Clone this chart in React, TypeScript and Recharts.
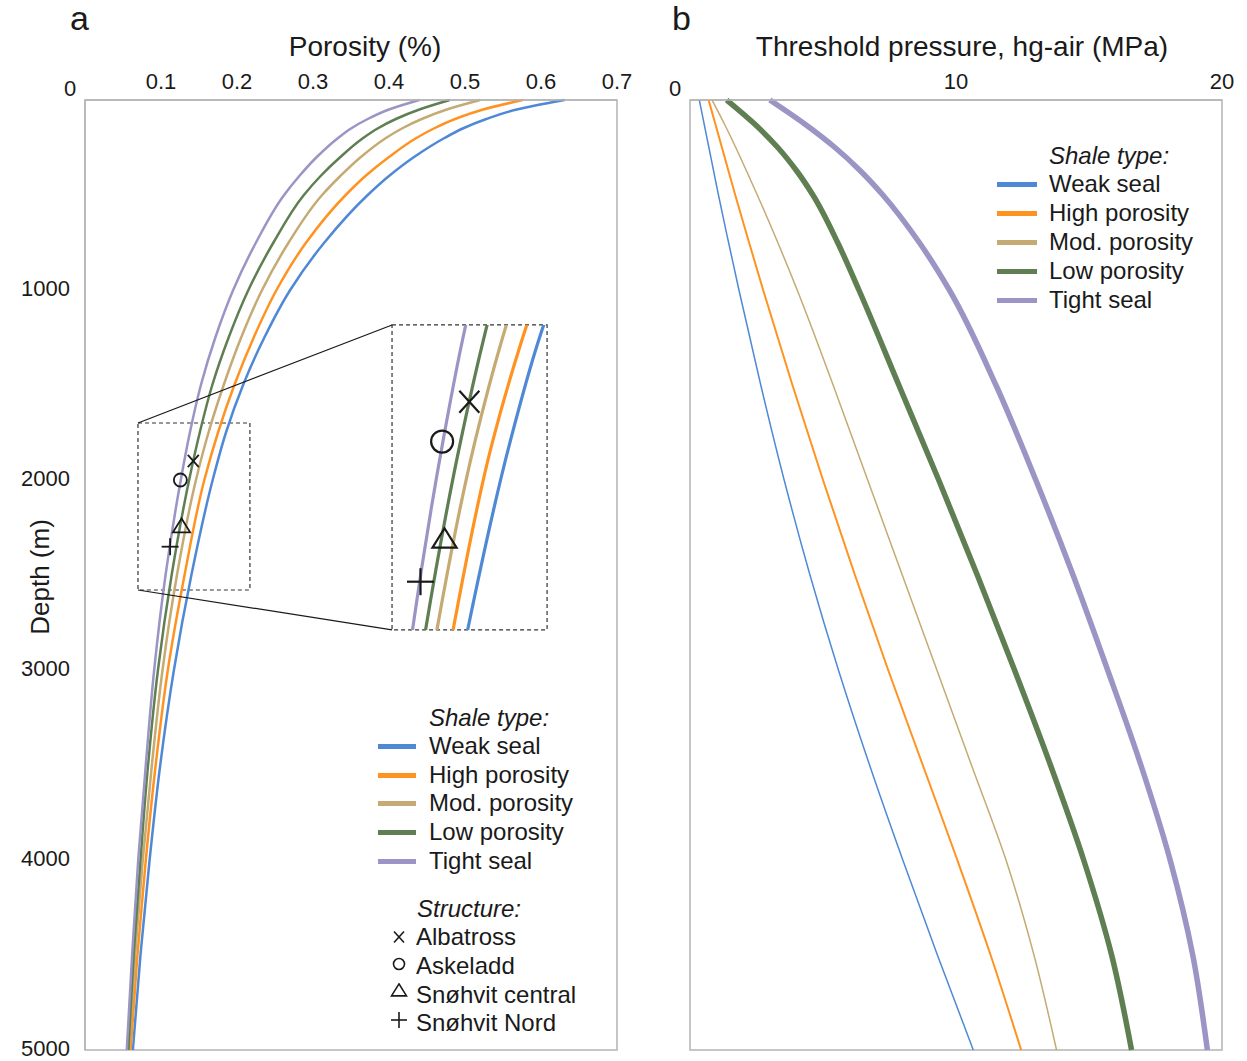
import React from 'react';
import { ComposedChart, Line, XAxis, YAxis, ReferenceArea, ReferenceLine, ReferenceDot } from 'recharts';

const FONT = '"Liberation Sans", Arial, Helvetica, sans-serif';
const INK = '#1a1a1a';
const FRAME = '#b4b4b4';

// ---- Panel a: porosity vs depth ----
const porosityDepths = [0, 50, 100, 150, 200, 300, 400, 500, 750, 1000, 1250, 1500, 1750, 2000, 2500, 3000, 3500, 4000, 4500, 5000];
const porosityWeak = [0.631, 0.568, 0.528, 0.497, 0.473, 0.433, 0.400, 0.372, 0.315, 0.270, 0.236, 0.208, 0.1855, 0.168, 0.140, 0.117, 0.099, 0.085, 0.073, 0.063];
const porosityHigh = [0.576, 0.524, 0.487, 0.459, 0.436, 0.400, 0.369, 0.343, 0.291, 0.252, 0.222, 0.1965, 0.175, 0.157, 0.131, 0.109, 0.093, 0.080, 0.069, 0.060];
const porosityMod = [0.520, 0.476, 0.443, 0.417, 0.396, 0.363, 0.336, 0.312, 0.268, 0.233, 0.2055, 0.1825, 0.1625, 0.146, 0.121, 0.102, 0.088, 0.076, 0.066, 0.058];
const porosityLow = [0.480, 0.440, 0.409, 0.385, 0.366, 0.336, 0.310, 0.288, 0.248, 0.215, 0.189, 0.1675, 0.151, 0.137, 0.114, 0.096, 0.083, 0.073, 0.064, 0.057];
const porosityTight = [0.440, 0.400, 0.372, 0.350, 0.333, 0.305, 0.282, 0.262, 0.225, 0.195, 0.1715, 0.1525, 0.138, 0.126, 0.106, 0.091, 0.080, 0.070, 0.062, 0.055];

// ---- Panel b: threshold pressure vs depth ----
const pressureDepths = [0, 125, 250, 375, 500, 750, 1000, 1500, 2000, 2500, 3000, 3500, 4000, 4500, 5000];
const pressureWeak = [0.35, 0.53, 0.71, 0.89, 1.07, 1.45, 1.84, 2.66, 3.54, 4.51, 5.58, 6.75, 8.00, 9.30, 10.65];
const pressureHigh = [0.70, 0.95, 1.20, 1.45, 1.70, 2.22, 2.75, 3.85, 5.00, 6.20, 7.45, 8.75, 10.05, 11.30, 12.45];
const pressureMod = [0.83, 1.29, 1.72, 2.13, 2.53, 3.30, 4.03, 5.38, 6.68, 7.98, 9.28, 10.58, 11.88, 12.93, 13.78];
const pressureLow = [1.38, 2.42, 3.30, 4.02, 4.62, 5.55, 6.35, 7.85, 9.35, 10.80, 12.20, 13.55, 14.80, 15.85, 16.60];
const pressureTight = [3.00, 4.30, 5.45, 6.42, 7.25, 8.62, 9.75, 11.50, 13.00, 14.40, 15.70, 16.95, 18.05, 18.90, 19.45];

const seriesKeys = ['weak', 'high', 'mod', 'low', 'tight'];
const seriesNames = ['Weak seal', 'High porosity', 'Mod. porosity', 'Low porosity', 'Tight seal'];
const seriesColors = ['#4f89d6', '#ff9322', '#c5ab73', '#5f7f53', '#9a95c4'];
const pressureWidths = [1.5, 2, 1.5, 5.5, 5.5];

const porosityTicks = [0, 0.1, 0.2, 0.3, 0.4, 0.5, 0.6, 0.7];
const depthTicks = [1000, 2000, 3000, 4000, 5000];
const pressureTicks = [0, 10, 20];

// structures
const structureNames = ['Albatross', 'Askeladd', 'Snøhvit central', 'Snøhvit Nord'];
const structureSymbols = ['cross', 'circle', 'triangle', 'plus'];
const structurePorosity = [0.1425, 0.1255, 0.127, 0.112];
const structureDepth = [1900, 2000, 2246, 2351];

// zoom window (source) and magnified frame, in data units of panel a
const zoomX = [0.0697, 0.217];
const zoomY = [1700, 2579];
const frameX = [0.404, 0.608];
const frameY = [1184, 2789];
const insetX = [0.0942, 0.191];
const insetY = [1708, 2472];

const porosityData = porosityDepths.map((depth, i) => ({
  depth,
  weak: porosityWeak[i],
  high: porosityHigh[i],
  mod: porosityMod[i],
  low: porosityLow[i],
  tight: porosityTight[i],
}));

const pressureData = pressureDepths.map((depth, i) => ({
  depth,
  weak: pressureWeak[i],
  high: pressureHigh[i],
  mod: pressureMod[i],
  low: pressureLow[i],
  tight: pressureTight[i],
}));

function markerShape(kind: string, s: number, sw: number) {
  return (p: any) => {
    const { cx, cy } = p;
    if (cx == null || cy == null) return <g />;
    if (kind === 'cross') {
      const sy = s * 1.1;
      return (
        <g>
          <line x1={cx - s} y1={cy - sy} x2={cx + s} y2={cy + sy} stroke={INK} strokeWidth={sw} />
          <line x1={cx - s} y1={cy + sy} x2={cx + s} y2={cy - sy} stroke={INK} strokeWidth={sw} />
        </g>
      );
    }
    if (kind === 'circle') {
      return <circle cx={cx} cy={cy} r={s} fill="none" stroke={INK} strokeWidth={sw} />;
    }
    if (kind === 'triangle') {
      return (
        <polygon
          points={`${cx},${cy - s * 1.1} ${cx - s * 1.15},${cy + s * 0.75} ${cx + s * 1.15},${cy + s * 0.75}`}
          fill="none"
          stroke={INK}
          strokeWidth={sw}
          strokeLinejoin="miter"
        />
      );
    }
    return (
      <g>
        <line x1={cx - s} y1={cy} x2={cx + s} y2={cy} stroke={INK} strokeWidth={sw} />
        <line x1={cx} y1={cy - s} x2={cx} y2={cy + s} stroke={INK} strokeWidth={sw} />
      </g>
    );
  };
}

const mainMarkerSize: Record<string, number> = { cross: 5.5, circle: 6.5, triangle: 7.5, plus: 8.5 };
const insetMarkerSize: Record<string, number> = { cross: 10, circle: 11, triangle: 10.5, plus: 13.5 };

const makeTopTick = (fmt: (v: number) => string) => (props: any) => {
  const { x, y, payload } = props;
  const v = payload.value;
  const zero = v === 0;
  return (
    <text
      x={zero ? x - 15 : x}
      y={zero ? y + 7 : y}
      textAnchor="middle"
      fontFamily={FONT}
      fontSize={22}
      fill={INK}
    >
      {fmt(v)}
    </text>
  );
};

const LeftTick = (props: any) => {
  const { x, y, payload } = props;
  return (
    <text x={x} y={y} dy={6} textAnchor="end" fontFamily={FONT} fontSize={22} fill={INK}>
      {payload.value}
    </text>
  );
};

function LegendSymbol({ kind }: { kind: string }) {
  const shape = markerShape(kind, kind === 'circle' ? 5.5 : kind === 'plus' ? 8 : kind === 'triangle' ? 6.5 : 5, 1.6);
  const dy = kind === 'triangle' ? -4 : kind === 'circle' ? -2 : kind === 'plus' ? -3 : 0;
  return (
    <svg width={22} height={24} style={{ position: 'absolute', left: -11, top: -12 }}>
      {shape({ cx: 11, cy: 12 + dy })}
    </svg>
  );
}

function ShaleLegend({ left, titleTop, rowTops, swatchLeft, swatchWidth }: any) {
  return (
    <>
      <div
        style={{
          position: 'absolute',
          left,
          top: titleTop - 12,
          fontSize: 24,
          lineHeight: '24px',
          fontStyle: 'italic',
          color: INK,
          whiteSpace: 'nowrap',
        }}
      >
        Shale type:
      </div>
      {seriesNames.map((name, i) => (
        <React.Fragment key={name}>
          <div
            style={{
              position: 'absolute',
              left: swatchLeft,
              top: rowTops[i] - 2,
              width: swatchWidth,
              height: 5,
              background: seriesColors[i],
            }}
          />
          <div
            style={{
              position: 'absolute',
              left,
              top: rowTops[i] - 12,
              fontSize: 24,
              lineHeight: '24px',
              color: INK,
              whiteSpace: 'nowrap',
            }}
          >
            {name}
          </div>
        </React.Fragment>
      ))}
    </>
  );
}

const leftRows = [746, 775, 803, 832, 861];
const rightRows = [184, 213, 242, 271, 300];
const structureRows = [937, 966, 995, 1023];

export default function App() {
  const porFmt = (v: number) => (v === 0 ? '0' : v.toFixed(1));
  const presFmt = (v: number) => String(v);

  return (
    <div
      style={{
        position: 'absolute',
        left: 0,
        top: 0,
        width: 1247,
        height: 1061,
        background: '#ffffff',
        fontFamily: FONT,
        overflow: 'hidden',
      }}
    >
      {/* Panel a */}
      <div style={{ position: 'absolute', left: 0, top: 0 }}>
        <ComposedChart
          width={640}
          height={1061}
          data={porosityData}
          layout="vertical"
          margin={{ top: 0, right: 23, bottom: 11, left: 0 }}
        >
          <XAxis
            type="number"
            orientation="top"
            domain={[0, 0.7]}
            ticks={porosityTicks}
            interval={0}
            height={100}
            axisLine={{ stroke: FRAME, strokeWidth: 1.5 }}
            tickLine={false}
            tickSize={0}
            tickMargin={11}
            tick={makeTopTick(porFmt)}
          />
          <YAxis
            type="number"
            dataKey="depth"
            domain={[0, 5000]}
            ticks={depthTicks}
            interval={0}
            width={85}
            axisLine={{ stroke: FRAME, strokeWidth: 1.5 }}
            tickLine={false}
            tickSize={0}
            tickMargin={15}
            tick={LeftTick}
          />
          <ReferenceArea x1={0} x2={0.7} y1={0} y2={5000} fill="none" stroke={FRAME} strokeWidth={1.5} ifOverflow="visible" />
          {seriesKeys.map((k, i) => (
            <Line
              key={k}
              dataKey={k}
              type="monotone"
              stroke={seriesColors[i]}
              strokeWidth={2.5}
              dot={false}
              activeDot={false}
              isAnimationActive={false}
            />
          ))}
          <ReferenceArea
            x1={zoomX[0]}
            x2={zoomX[1]}
            y1={zoomY[0]}
            y2={zoomY[1]}
            fill="none"
            stroke="#333"
            strokeDasharray="4 3"
            strokeWidth={1.2}
            ifOverflow="visible"
          />
          <ReferenceArea
            x1={frameX[0]}
            x2={frameX[1]}
            y1={frameY[0]}
            y2={frameY[1]}
            fill="#ffffff"
            fillOpacity={1}
            stroke="#333"
            strokeDasharray="4 3"
            strokeWidth={1.2}
            ifOverflow="visible"
          />
          <ReferenceLine
            segment={[
              { x: zoomX[0], y: zoomY[0] },
              { x: frameX[0], y: frameY[0] },
            ]}
            stroke={INK}
            strokeWidth={1.2}
            ifOverflow="visible"
          />
          <ReferenceLine
            segment={[
              { x: zoomX[0], y: zoomY[1] },
              { x: frameX[0], y: frameY[1] },
            ]}
            stroke={INK}
            strokeWidth={1.2}
            ifOverflow="visible"
          />
          {structureNames.map((n, i) => (
            <ReferenceDot
              key={n}
              x={structurePorosity[i]}
              y={structureDepth[i]}
              r={6}
              ifOverflow="visible"
              shape={markerShape(structureSymbols[i], mainMarkerSize[structureSymbols[i]], 1.8)}
            />
          ))}
        </ComposedChart>
      </div>

      {/* Magnified inset */}
      <div style={{ position: 'absolute', left: 392, top: 325 }}>
        <ComposedChart
          width={155}
          height={305}
          data={porosityData}
          layout="vertical"
          margin={{ top: 0, right: 0, bottom: 0, left: 0 }}
        >
          <XAxis type="number" hide domain={insetX} allowDataOverflow />
          <YAxis type="number" dataKey="depth" hide domain={insetY} allowDataOverflow />
          {seriesKeys.map((k, i) => (
            <Line
              key={k}
              dataKey={k}
              type="monotone"
              stroke={seriesColors[i]}
              strokeWidth={3.2}
              dot={false}
              activeDot={false}
              isAnimationActive={false}
            />
          ))}
          {structureNames.map((n, i) => (
            <ReferenceDot
              key={n}
              x={structurePorosity[i]}
              y={structureDepth[i]}
              r={10}
              ifOverflow="visible"
              shape={markerShape(structureSymbols[i], insetMarkerSize[structureSymbols[i]], 2.2)}
            />
          ))}
        </ComposedChart>
      </div>

      {/* Panel b */}
      <div style={{ position: 'absolute', left: 640, top: 0 }}>
        <ComposedChart
          width={607}
          height={1061}
          data={pressureData}
          layout="vertical"
          margin={{ top: 0, right: 25, bottom: 11, left: 50 }}
        >
          <XAxis
            type="number"
            orientation="top"
            domain={[0, 20]}
            ticks={pressureTicks}
            interval={0}
            height={100}
            axisLine={{ stroke: FRAME, strokeWidth: 1.5 }}
            tickLine={false}
            tickSize={0}
            tickMargin={11}
            tick={makeTopTick(presFmt)}
          />
          <YAxis type="number" dataKey="depth" domain={[0, 5000]} hide />
          <ReferenceArea x1={0} x2={20} y1={0} y2={5000} fill="none" stroke={FRAME} strokeWidth={1.5} ifOverflow="visible" />
          {seriesKeys.map((k, i) => (
            <Line
              key={k}
              dataKey={k}
              type="monotone"
              stroke={seriesColors[i]}
              strokeWidth={pressureWidths[i]}
              dot={false}
              activeDot={false}
              isAnimationActive={false}
            />
          ))}
        </ComposedChart>
      </div>

      {/* Titles */}
      <div style={{ position: 'absolute', left: 70, top: 1, fontSize: 34, lineHeight: '34px', color: INK }}>a</div>
      <div style={{ position: 'absolute', left: 672, top: 1, fontSize: 34, lineHeight: '34px', color: INK }}>b</div>
      <div
        style={{
          position: 'absolute',
          left: 365,
          top: 47 - 14,
          transform: 'translateX(-50%)',
          fontSize: 28,
          lineHeight: '28px',
          color: INK,
          whiteSpace: 'nowrap',
        }}
      >
        Porosity (%)
      </div>
      <div
        style={{
          position: 'absolute',
          left: 962,
          top: 47 - 14,
          transform: 'translateX(-50%)',
          fontSize: 28,
          lineHeight: '28px',
          color: INK,
          whiteSpace: 'nowrap',
        }}
      >
        Threshold pressure, hg-air (MPa)
      </div>
      <div
        style={{
          position: 'absolute',
          left: 40,
          top: 577,
          transform: 'translate(-50%, -50%) rotate(-90deg)',
          fontSize: 26,
          lineHeight: '26px',
          color: INK,
          whiteSpace: 'nowrap',
        }}
      >
        Depth (m)
      </div>

      {/* Legend panel a */}
      <ShaleLegend left={429} titleTop={718} rowTops={leftRows} swatchLeft={378} swatchWidth={38} />
      <div
        style={{
          position: 'absolute',
          left: 417,
          top: 909 - 12,
          fontSize: 24,
          lineHeight: '24px',
          fontStyle: 'italic',
          color: INK,
          whiteSpace: 'nowrap',
        }}
      >
        Structure:
      </div>
      {structureNames.map((n, i) => (
        <React.Fragment key={n}>
          <div style={{ position: 'absolute', left: 399, top: structureRows[i] }}>
            <LegendSymbol kind={structureSymbols[i]} />
          </div>
          <div
            style={{
              position: 'absolute',
              left: 416,
              top: structureRows[i] - 12,
              fontSize: 24,
              lineHeight: '24px',
              color: INK,
              whiteSpace: 'nowrap',
            }}
          >
            {n}
          </div>
        </React.Fragment>
      ))}

      {/* Legend panel b */}
      <ShaleLegend left={1049} titleTop={156} rowTops={rightRows} swatchLeft={997} swatchWidth={40} />
    </div>
  );
}
